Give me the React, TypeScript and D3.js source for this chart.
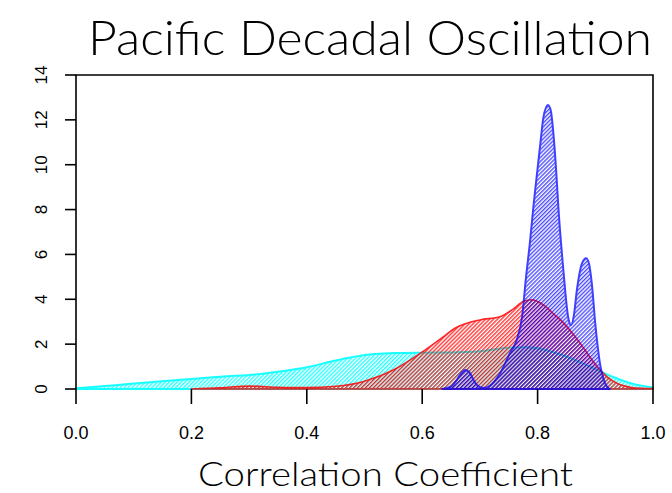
import React from "react";
import * as d3 from "d3";

const xTicks = [0, 0.2, 0.4, 0.6, 0.8, 1.0];
const yTicks = [0, 2, 4, 6, 8, 10, 12, 14];

const cyanX = [0, 0.05, 0.09, 0.15, 0.2, 0.25, 0.32, 0.36, 0.4, 0.45, 0.49, 0.55, 0.6, 0.65, 0.7, 0.75, 0.78, 0.8, 0.83, 0.86, 0.88, 0.9, 0.92, 0.94, 0.96, 0.98, 1.0];
const cyanY = [0.03, 0.13, 0.22, 0.35, 0.45, 0.55, 0.67, 0.8, 0.97, 1.27, 1.47, 1.6, 1.62, 1.63, 1.68, 1.84, 1.86, 1.82, 1.62, 1.35, 1.12, 0.9, 0.65, 0.45, 0.27, 0.15, 0.08];

const redX = [0.2, 0.25, 0.3, 0.35, 0.4, 0.45, 0.5, 0.55, 0.6, 0.63, 0.66, 0.7, 0.735, 0.757, 0.775, 0.79, 0.81, 0.83, 0.845, 0.86, 0.875, 0.89, 0.905, 0.92, 0.94, 0.96, 0.98, 1.0];
const redY = [0.0, 0.05, 0.13, 0.08, 0.06, 0.12, 0.35, 0.85, 1.65, 2.2, 2.75, 3.08, 3.22, 3.55, 3.9, 3.98, 3.75, 3.3, 2.95, 2.5, 2.0, 1.45, 0.95, 0.55, 0.22, 0.08, 0.03, 0.02];

const blueX = [0.635, 0.65, 0.66, 0.668, 0.675, 0.683, 0.69, 0.7, 0.71, 0.72, 0.735, 0.752, 0.764, 0.773, 0.78, 0.787, 0.793, 0.799, 0.805, 0.81, 0.818, 0.823, 0.827, 0.832, 0.836, 0.845, 0.853, 0.858, 0.863, 0.868, 0.873, 0.877, 0.884, 0.889, 0.894, 0.9, 0.908, 0.917, 0.925];
const blueY = [0, 0.1, 0.4, 0.72, 0.85, 0.7, 0.35, 0.08, 0.05, 0.2, 0.7, 1.6, 2.2, 3.2, 5.0, 6.6, 8.2, 9.6, 11.0, 12.1, 12.66, 12.4, 11.5, 9.8, 8.1, 5.2, 3.2, 2.85, 3.3, 4.4, 5.2, 5.6, 5.83, 5.6, 4.7, 2.9, 1.15, 0.25, 0];

const series = [
  { id: "cyan", xs: cyanX, ys: cyanY, color: "#00ffff", op: 0.9, sw: 2 },
  { id: "red", xs: redX, ys: redY, color: "#ff0000", op: 0.85, sw: 1.6 },
  { id: "blue", xs: blueX, ys: blueY, color: "#0000ff", op: 0.75, sw: 2 },
];

const W = 672;
const H = 493;
const L = 76, R = 653, T = 75, B = 389;

export default function App() {
  const x = d3.scaleLinear().domain([0, 1]).range([L, R]);
  const y = d3.scaleLinear().domain([0, 14]).range([B, T]);

  const area = d3
    .area<[number, number]>()
    .x((d) => x(d[0]))
    .y0(y(0))
    .y1((d) => y(d[1]))
    .curve(d3.curveMonotoneX);

  return (
    <div style={{ position: "absolute", left: 0, top: 0 }}>
      <svg width={W} height={H} style={{ display: "block", background: "#fff" }}>
        <defs>
          {series.map((s) => (
            <pattern
              key={s.id}
              id={"hatch-" + s.id}
              patternUnits="userSpaceOnUse"
              width={2.8}
              height={10}
              patternTransform="rotate(45)"
            >
              <line x1={0.7} y1={0} x2={0.7} y2={10} stroke={s.color} strokeWidth={1.3} />
            </pattern>
          ))}
        </defs>

        {series.map((s) => {
          const pts: [number, number][] = s.xs.map((v, i) => [v, s.ys[i]]);
          const d = area(pts) || "";
          return (
            <g key={s.id} opacity={s.op}>
              <path d={d} fill={`url(#hatch-${s.id})`} stroke="none" />
              <path d={d} fill="none" stroke={s.color} strokeWidth={s.sw} strokeLinejoin="round" />
            </g>
          );
        })}

        {/* box */}
        <path d={`M${L},${B} V${T} H${R} V${B}`} fill="none" stroke="#000" strokeWidth={1.6} />

        {/* y axis ticks */}
        {yTicks.map((t) => (
          <g key={"y" + t}>
            <line x1={L - 11} x2={L} y1={y(t)} y2={y(t)} stroke="#000" strokeWidth={1.6} />
            <text
              transform={`translate(${47},${y(t)}) rotate(-90)`}
              textAnchor="middle"
              fontFamily="Liberation Sans, Arial, sans-serif"
              fontSize={17}
              fill="#000"
            >
              {t}
            </text>
          </g>
        ))}

        {/* x axis ticks */}
        {xTicks.map((t) => (
          <g key={"x" + t}>
            <line x1={x(t)} x2={x(t)} y1={B} y2={B + 15} stroke="#000" strokeWidth={1.6} />
            <text
              x={x(t)}
              y={439}
              textAnchor="middle"
              fontFamily="Liberation Sans, Arial, sans-serif"
              fontSize={18}
              fill="#000"
            >
              {t.toFixed(1)}
            </text>
          </g>
        ))}

        <text
          x={88}
          y={55}
          fontFamily="Lato, 'Open Sans', sans-serif"
          fontWeight={300}
          fontSize={48}
          textLength={564}
          lengthAdjust="spacingAndGlyphs"
          fill="#000"
        >
          Pacific Decadal Oscillation
        </text>
        <text
          x={198}
          y={486}
          fontFamily="Lato, 'Open Sans', sans-serif"
          fontWeight={300}
          fontSize={34}
          textLength={375}
          lengthAdjust="spacingAndGlyphs"
          fill="#000"
        >
          Correlation Coefficient
        </text>
      </svg>
    </div>
  );
}
